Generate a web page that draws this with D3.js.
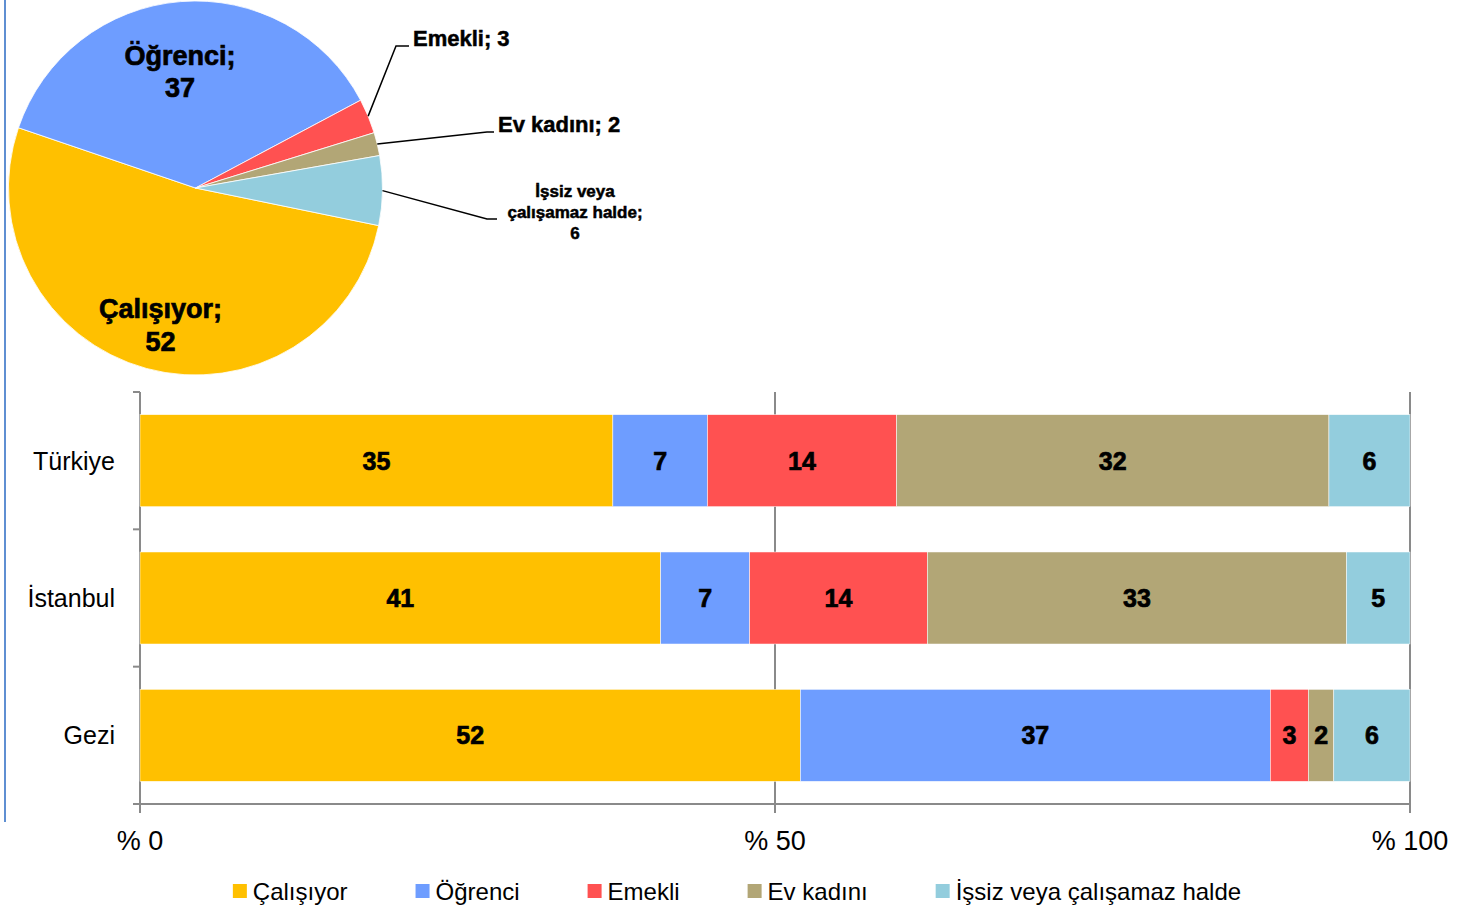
<!DOCTYPE html>
<html>
<head>
<meta charset="utf-8">
<script src="https://cdn.jsdelivr.net/npm/d3@7"></script>
<style>
  body { margin: 0; background: #fff; }
  svg text { font-family: "Liberation Sans", Arial, sans-serif; fill: #000; }
</style>
</head>
<body>
<svg id="chart" width="1470" height="909"></svg>
<script>
// ---- data
var categories = ["Türkiye", "İstanbul", "Gezi"];
var seriesNames = ["Çalışıyor", "Öğrenci", "Emekli", "Ev kadını", "İşsiz veya çalışamaz halde"];
var calisiyor = [35, 41, 52];
var ogrenci = [7, 7, 37];
var emekli = [14, 14, 3];
var evKadini = [32, 33, 2];
var issiz = [6, 5, 6];
var pieValues = [52, 37, 3, 2, 6];   // Gezi
var xTicks = [0, 50, 100];
var xTickLabels = ["% 0", "% 50", "% 100"];

var seriesColors = ["#FFC000", "#6E9DFF", "#FF5151", "#B2A676", "#93CDDD"];
var gridColor = "#8a8a8a";

var svg = d3.select("#chart");

// left border line
svg.append("line")
    .attr("x1", 5).attr("x2", 5)
    .attr("y1", 0).attr("y2", 822)
    .attr("stroke", "#5f8fd2")
    .attr("stroke-width", 2);

// ---- Pie chart (Gezi)
var pieCenter = [195.5, 188];
var pieRadius = 187;
var pieStart = 101.6 * Math.PI / 180;

var pieData = seriesNames.map((n, i) => ({ name: n, value: pieValues[i], color: seriesColors[i] }));
var pie = d3.pie()
    .sort(null)
    .value(d => d.value)
    .startAngle(pieStart)
    .endAngle(pieStart + 2 * Math.PI);
var arc = d3.arc().innerRadius(0).outerRadius(pieRadius);
var slices = pie(pieData);

var pieG = svg.append("g")
    .attr("transform", `translate(${pieCenter[0]}, ${pieCenter[1]})`);

pieG.selectAll("path")
    .data(slices)
    .join("path")
    .attr("d", arc)
    .attr("fill", d => d.data.color)
    .attr("stroke", "#fff")
    .attr("stroke-width", 0.8);

// label placement per slice (layout only)
var pieLabelLayout = [
    { mode: "inside", r: 0.754, dx: 2, size: 27, lineH: 33 },
    { mode: "inside", r: 0.626, dx: -6, size: 27, lineH: 32 },
    { mode: "outside", elbow: [396, 46], end: [409, 46], tx: 413, ty: 46, anchor: "start", size: 22 },
    { mode: "outside", elbow: [487, 132], end: [494, 132], tx: 498, ty: 132, anchor: "start", size: 22 },
    { mode: "outside", elbow: [487, 219], end: [497, 219], tx: 575, ty: 197, anchor: "middle", size: 17, lineH: 21, wrap: true }
];

function midAngle(d) { return (d.startAngle + d.endAngle) / 2; }

slices.forEach(function (d, i) {
    var lay = pieLabelLayout[i];
    var a = midAngle(d);
    if (lay.mode === "inside") {
        var cx = pieCenter[0] + Math.sin(a) * pieRadius * lay.r + lay.dx;
        var cy = pieCenter[1] - Math.cos(a) * pieRadius * lay.r;
        var t = svg.append("text")
            .attr("text-anchor", "middle")
            .attr("font-weight", "bold")
            .attr("font-size", lay.size)
            .attr("stroke", "#000")
            .attr("stroke-width", 0.7);
        t.append("tspan").attr("x", cx).attr("y", cy - 6).text(d.data.name + ";");
        t.append("tspan").attr("x", cx).attr("y", cy - 6 + lay.lineH).text(d.data.value);
    } else {
        var sx = pieCenter[0] + Math.sin(a) * pieRadius;
        var sy = pieCenter[1] - Math.cos(a) * pieRadius;
        svg.append("polyline")
            .attr("points", [[sx, sy], lay.elbow, lay.end].map(p => p.join(",")).join(" "))
            .attr("fill", "none")
            .attr("stroke", "#000")
            .attr("stroke-width", 1.5);
        var t = svg.append("text")
            .attr("text-anchor", lay.anchor)
            .attr("font-weight", "bold")
            .attr("font-size", lay.size)
            .attr("stroke", "#000")
            .attr("stroke-width", 0.5);
        if (lay.wrap) {
            var words = d.data.name.split(" ");
            var lines = [words.slice(0, 2).join(" "), words.slice(2).join(" ") + ";", String(d.data.value)];
            lines.forEach(function (ln, k) {
                t.append("tspan").attr("x", lay.tx).attr("y", lay.ty + k * lay.lineH).text(ln);
            });
        } else {
            t.attr("x", lay.tx).attr("y", lay.ty).text(d.data.name + "; " + d.data.value);
        }
    }
});

// ---- 100% stacked bar chart
var rows = categories.map(function (c, i) {
    var r = { category: c };
    r[seriesNames[0]] = calisiyor[i];
    r[seriesNames[1]] = ogrenci[i];
    r[seriesNames[2]] = emekli[i];
    r[seriesNames[3]] = evKadini[i];
    r[seriesNames[4]] = issiz[i];
    return r;
});

var stack = d3.stack().keys(seriesNames).offset(d3.stackOffsetExpand);
var layers = stack(rows);

var plot = { left: 140, right: 1410, top: 392, bottom: 804 };

var x = d3.scaleLinear().domain([0, 100]).range([plot.left, plot.right]);
var y = d3.scaleBand()
    .domain(categories)
    .range([plot.top, plot.bottom])
    .paddingInner(0.33)
    .paddingOuter(0.165);

// vertical gridlines (and y axis at 0)
svg.append("g")
    .selectAll("line")
    .data(xTicks)
    .join("line")
    .attr("x1", d => x(d)).attr("x2", d => x(d))
    .attr("y1", plot.top).attr("y2", plot.bottom + 9)
    .attr("stroke", gridColor)
    .attr("stroke-width", 2);

// bottom axis line
svg.append("line")
    .attr("x1", plot.left - 7).attr("x2", plot.right)
    .attr("y1", plot.bottom).attr("y2", plot.bottom)
    .attr("stroke", gridColor)
    .attr("stroke-width", 2);

// y ticks at category boundaries
var yBounds = d3.range(categories.length + 1).map(i => plot.top + i * y.step());
svg.append("g")
    .selectAll("line")
    .data(yBounds)
    .join("line")
    .attr("x1", plot.left - 7).attr("x2", plot.left)
    .attr("y1", d => d).attr("y2", d => d)
    .attr("stroke", gridColor)
    .attr("stroke-width", 2);

// bars
var layerG = svg.append("g")
    .selectAll("g")
    .data(layers)
    .join("g")
    .attr("fill", (d, i) => seriesColors[i]);

layerG.selectAll("rect")
    .data(d => d)
    .join("rect")
    .attr("x", d => x(d[0] * 100))
    .attr("y", d => y(d.data.category))
    .attr("width", d => x(d[1] * 100) - x(d[0] * 100))
    .attr("height", y.bandwidth())
    .attr("stroke", "#fff")
    .attr("stroke-width", 0.5);

// value labels
layers.forEach(function (layer) {
    svg.append("g")
        .selectAll("text")
        .data(layer)
        .join("text")
        .attr("x", d => x((d[0] + d[1]) / 2 * 100))
        .attr("y", d => y(d.data.category) + y.bandwidth() / 2)
        .attr("dy", "0.36em")
        .attr("text-anchor", "middle")
        .attr("font-weight", "bold")
        .attr("font-size", 25)
        .attr("stroke", "#000")
        .attr("stroke-width", 0.7)
        .text(d => d.data[layer.key]);
});

// category labels
svg.append("g")
    .selectAll("text")
    .data(categories)
    .join("text")
    .attr("x", 115)
    .attr("y", d => y(d) + y.bandwidth() / 2)
    .attr("dy", "0.36em")
    .attr("text-anchor", "end")
    .attr("font-size", 25)
    .text(d => d);

// x tick labels
svg.append("g")
    .selectAll("text")
    .data(xTicks)
    .join("text")
    .attr("x", d => x(d))
    .attr("y", plot.bottom + 46)
    .attr("text-anchor", "middle")
    .attr("font-size", 27)
    .text((d, i) => xTickLabels[i]);

// ---- legend
var legend = svg.append("g");
var legendItems = legend.selectAll("g")
    .data(seriesNames)
    .join("g");

legendItems.append("rect")
    .attr("x", 0).attr("y", 884)
    .attr("width", 14).attr("height", 14)
    .attr("fill", (d, i) => seriesColors[i]);

legendItems.append("text")
    .attr("x", 20)
    .attr("y", 900)
    .attr("font-size", 24)
    .text(d => d);

var offset = 0;
var gap = 68;
legendItems.each(function () {
    var item = d3.select(this);
    item.attr("transform", `translate(${offset}, 0)`);
    offset += 20 + item.select("text").node().getComputedTextLength() + gap;
});
var legendWidth = offset - gap;
legend.attr("transform", `translate(${737 - legendWidth / 2}, 0)`);
</script>
</body>
</html>
